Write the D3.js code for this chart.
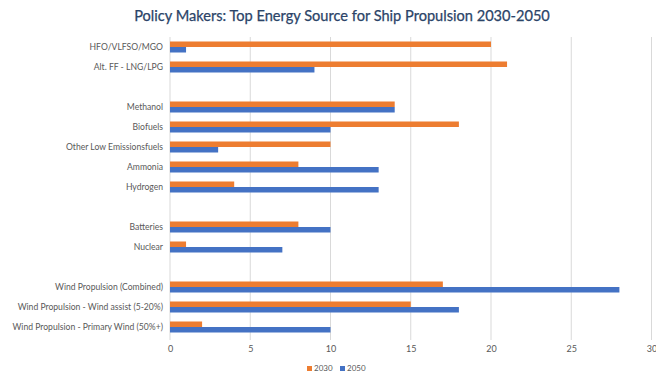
<!DOCTYPE html>
<html>
<head>
<meta charset="utf-8">
<script src="https://cdn.jsdelivr.net/npm/d3@7"></script>
<style>
  html, body { margin: 0; padding: 0; background: #fff; }
  svg { display: block; }
</style>
</head>
<body>
<svg id="chart" width="656" height="380"></svg>
<script>
// Categories from top to bottom; empty strings are spacer rows between groups
const categories = [
  "HFO/VLFSO/MGO", "Alt. FF - LNG/LPG", "",
  "Methanol", "Biofuels", "Other Low Emissionsfuels", "Ammonia", "Hydrogen", "",
  "Batteries", "Nuclear", "",
  "Wind Propulsion (Combined)", "Wind Propulsion - Wind assist (5-20%)", "Wind Propulsion - Primary Wind (50%+)"
];
const values2030 = [20, 21, null, 14, 18, 10, 8, 4, null, 8, 1, null, 17, 15, 2];
const values2050 = [1, 9, null, 14, 10, 3, 13, 13, null, 10, 7, null, 28, 18, 10];
const seriesNames = ["2030", "2050"];
const xTicks = [0, 5, 10, 15, 20, 25, 30];
const chartTitle = "Policy Makers: Top Energy Source for Ship Propulsion 2030-2050";

const colors = { "2030": "#ed7d31", "2050": "#4472c4" };

const svg = d3.select("#chart");
const margin = { top: 37, left: 170, right: 4.5, bottom: 43 };
const W = 656, H = 380;

const x = d3.scaleLinear().domain([0, 30]).range([margin.left, W - margin.right]);
const rows = categories.map((c, i) => i);
const y = d3.scaleBand().domain(rows).range([margin.top, H - margin.bottom]).paddingInner(0.45).paddingOuter(0.225);
const ySub = d3.scaleBand().domain(seriesNames).range([0, y.bandwidth()]);

// Title
svg.append("text")
  .attr("x", 342).attr("y", 21)
  .attr("text-anchor", "middle")
  .attr("font-family", "Lato, 'Open Sans', sans-serif")
  .attr("font-size", 14.6)
  .attr("fill", "#2b4468")
  .attr("stroke", "#2b4468").attr("stroke-width", 0.25)
  .text(chartTitle);

// Vertical gridlines
svg.append("g")
  .selectAll("line")
  .data(xTicks)
  .join("line")
  .attr("x1", d => x(d)).attr("x2", d => x(d))
  .attr("y1", margin.top).attr("y2", H - margin.bottom + 3)
  .attr("stroke", "#d9d9d9").attr("stroke-width", 1);

// X axis tick labels
const xAxis = d3.axisBottom(x).tickValues(xTicks).tickSize(0).tickPadding(8);
const gx = svg.append("g")
  .attr("transform", `translate(0,${H - margin.bottom + 1})`)
  .call(xAxis);
gx.select(".domain").remove();
gx.selectAll("text")
  .attr("font-family", "Lato, 'Open Sans', sans-serif")
  .attr("font-size", 9).attr("fill", "#595959");

// Category labels
const yAxis = d3.axisLeft(y).tickFormat(i => categories[i]).tickSize(0).tickPadding(7);
const gy = svg.append("g")
  .attr("transform", `translate(${margin.left},0)`)
  .call(yAxis);
gy.select(".domain").remove();
gy.selectAll("text")
  .attr("font-family", "Lato, 'Open Sans', sans-serif")
  .attr("font-size", 8.6).attr("fill", "#595959");

// Bars
const series = [values2030, values2050];
const barData = [];
rows.forEach(i => {
  seriesNames.forEach((s, k) => {
    const v = series[k][i];
    if (v != null) barData.push({ row: i, series: s, value: v });
  });
});
svg.append("g")
  .selectAll("rect")
  .data(barData)
  .join("rect")
  .attr("x", x(0))
  .attr("y", d => y(d.row) + ySub(d.series))
  .attr("width", d => x(d.value) - x(0))
  .attr("height", ySub.bandwidth())
  .attr("fill", d => colors[d.series]);

// Legend
const legend = svg.append("g").attr("transform", "translate(307,371)");
const item = legend.selectAll("g")
  .data(seriesNames)
  .join("g")
  .attr("transform", (d, i) => `translate(${i * 33},0)`);
item.append("rect")
  .attr("x", 0).attr("y", -5).attr("width", 5).attr("height", 5)
  .attr("fill", d => colors[d]);
item.append("text")
  .attr("x", 7).attr("y", 0)
  .attr("font-family", "Lato, 'Open Sans', sans-serif")
  .attr("font-size", 8).attr("fill", "#595959")
  .text(d => d);
</script>
</body>
</html>
